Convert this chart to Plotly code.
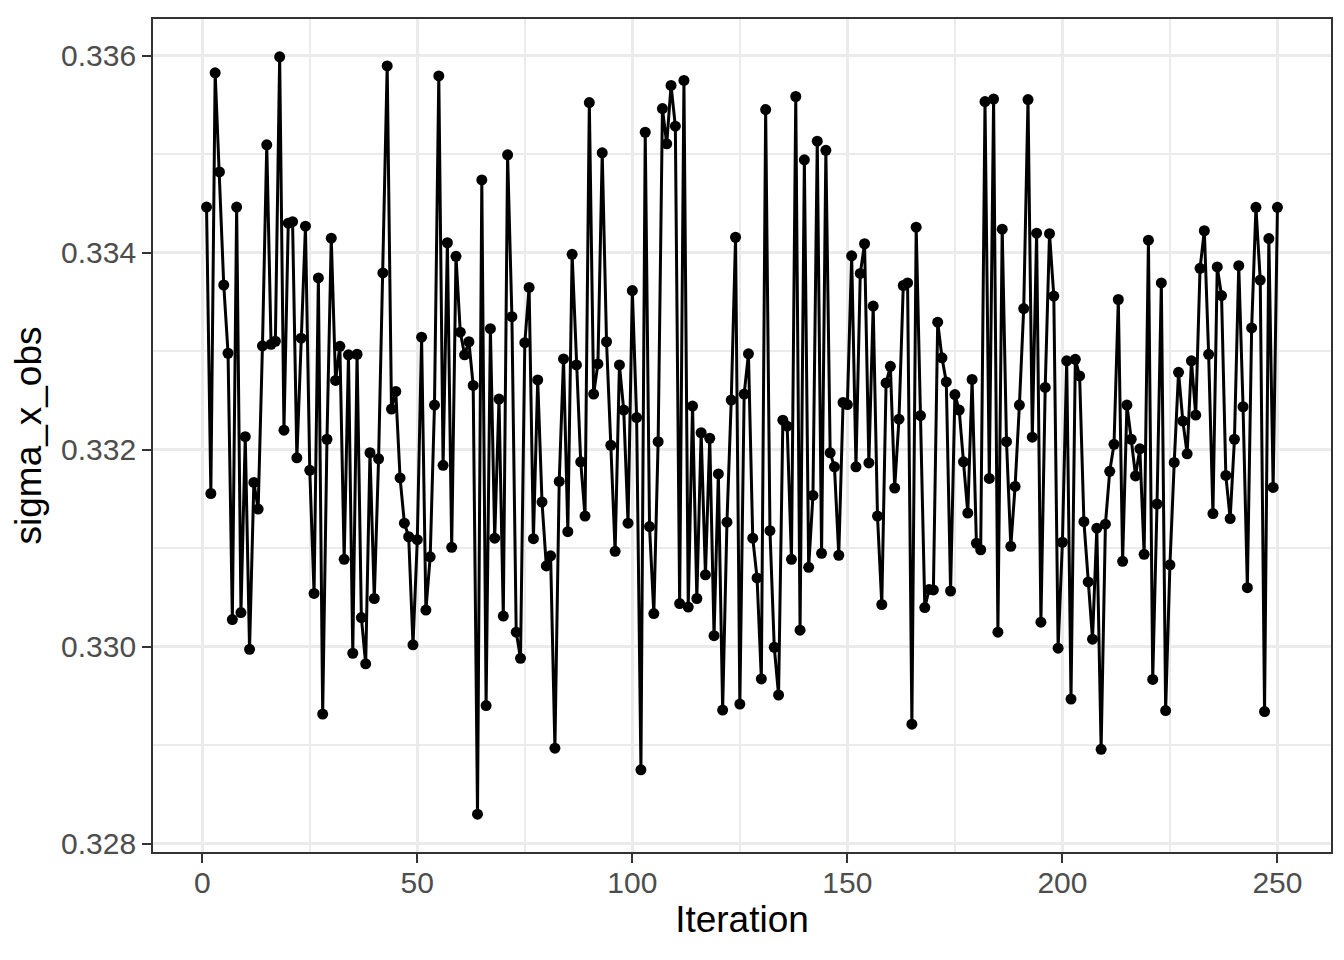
import plotly.graph_objects as go

# sigma_x_obs trace, iterations 1..250
sigma_x_obs = [
    0.334464, 0.331556, 0.335827, 0.334821, 0.333673, 0.332980, 0.330276, 0.334464, 0.330347, 0.332133,
    0.329974, 0.331668, 0.331398, 0.333056, 0.335097, 0.333071, 0.333102, 0.335990, 0.332199, 0.334301,
    0.334316, 0.331918, 0.333133, 0.334270, 0.331791, 0.330541, 0.333745, 0.329316, 0.332107, 0.334148,
    0.332704, 0.333051, 0.330888, 0.332964, 0.329934, 0.332970, 0.330296, 0.329827, 0.331970, 0.330490,
    0.331908, 0.333796, 0.335898, 0.332413, 0.332592, 0.331714, 0.331255, 0.331117, 0.330020, 0.331087,
    0.333143, 0.330372, 0.330913, 0.332454, 0.335796, 0.331842, 0.334102, 0.331010, 0.333964, 0.333194,
    0.332964, 0.333097, 0.332653, 0.328300, 0.334740, 0.329403, 0.333230, 0.331102, 0.332515, 0.330311,
    0.334995, 0.333352, 0.330148, 0.329883, 0.333087, 0.333648, 0.331097, 0.332709, 0.331469, 0.330821,
    0.330923, 0.328970, 0.331679, 0.332923, 0.331168, 0.333985, 0.332862, 0.331878, 0.331327, 0.335526,
    0.332566, 0.332872, 0.335015, 0.333097, 0.332046, 0.330969, 0.332862, 0.332403, 0.331255, 0.333617,
    0.332327, 0.328750, 0.335224, 0.331220, 0.330337, 0.332082, 0.335464, 0.335107, 0.335699, 0.335286,
    0.330439, 0.335750, 0.330403, 0.332444, 0.330490, 0.332173, 0.330730, 0.332117, 0.330112, 0.331755,
    0.329357, 0.331265, 0.332505, 0.334158, 0.329418, 0.332566, 0.332974, 0.331102, 0.330699, 0.329673,
    0.335454, 0.331179, 0.329995, 0.329510, 0.332301, 0.332240, 0.330888, 0.335587, 0.330168, 0.334944,
    0.330806, 0.331536, 0.335133, 0.330949, 0.335041, 0.331969, 0.331827, 0.330929, 0.332480, 0.332459,
    0.333969, 0.331827, 0.333791, 0.334092, 0.331867, 0.333459, 0.331327, 0.330429, 0.332679, 0.332847,
    0.331612, 0.332311, 0.333668, 0.333694, 0.329214, 0.334260, 0.332347, 0.330398, 0.330582, 0.330577,
    0.333296, 0.332934, 0.332689, 0.330566, 0.332561, 0.332403, 0.331878, 0.331357, 0.332714, 0.331051,
    0.330985, 0.335536, 0.331709, 0.335561, 0.330148, 0.334240, 0.332082, 0.331020, 0.331628, 0.332454,
    0.333434, 0.335556, 0.332128, 0.334199, 0.330250, 0.332633, 0.334194, 0.333561, 0.329985, 0.331061,
    0.332903, 0.329469, 0.332918, 0.332750, 0.331270, 0.330658, 0.330077, 0.331204, 0.328959, 0.331245,
    0.331781, 0.332056, 0.333526, 0.330867, 0.332454, 0.332107, 0.331735, 0.332010, 0.330939, 0.334128,
    0.329668, 0.331449, 0.333694, 0.329352, 0.330832, 0.331872, 0.332786, 0.332291, 0.331959, 0.332903,
    0.332352, 0.333842, 0.334224, 0.332969, 0.331352, 0.333857, 0.333566, 0.331740, 0.331301, 0.332107,
    0.333869, 0.332437, 0.330600, 0.333237, 0.334462, 0.333723, 0.329342, 0.334145, 0.331618, 0.334462,
]
iteration = list(range(1, len(sigma_x_obs) + 1))

x_ticks = [0, 50, 100, 150, 200, 250]
y_ticks = [0.328, 0.330, 0.332, 0.334, 0.336]
y_labels = ["0.328", "0.330", "0.332", "0.334", "0.336"]

FONT = "Liberation Sans, Arial, Helvetica, sans-serif"
GRID = "#EBEBEB"
BORDER = "#333333"

fig = go.Figure()
fig.add_trace(go.Scatter(
    x=iteration, y=sigma_x_obs, mode="lines+markers",
    line=dict(color="black", width=3),
    marker=dict(color="black", size=11),
    showlegend=False,
))

axis_common = dict(
    showline=True, mirror=True, linecolor=BORDER, linewidth=1.8,
    ticks="outside", ticklen=9, tickwidth=2, tickcolor=BORDER,
    tickfont=dict(family=FONT, size=30, color="#4D4D4D"),
    showgrid=True, gridcolor=GRID, gridwidth=3.2,
    zeroline=False,
)

fig.update_xaxes(
    range=[-11.45, 262.45], tickvals=x_ticks, ticklabelstandoff=-6,
    minor=dict(dtick=25, tick0=25, showgrid=True, gridcolor=GRID, gridwidth=1.6, ticks=""),
    title=dict(text="Iteration", font=dict(family=FONT, size=37, color="black"), standoff=8),
    **axis_common,
)
fig.update_yaxes(
    range=[0.327916, 0.336374], tickvals=y_ticks, ticktext=y_labels,
    minor=dict(dtick=0.002, tick0=0.329, showgrid=True, gridcolor=GRID, gridwidth=1.6, ticks=""),
    title=dict(text="sigma_x_obs", font=dict(family=FONT, size=37, color="black"), standoff=10),
    **axis_common,
)

# the page body adds an 8px margin, so the figure is sized a little smaller
fig.update_layout(
    width=1328, height=944,
    margin=dict(l=145, r=3, t=11, b=100),
    paper_bgcolor="white", plot_bgcolor="white",
    font=dict(family=FONT),
)

fig.write_html("out.html")
